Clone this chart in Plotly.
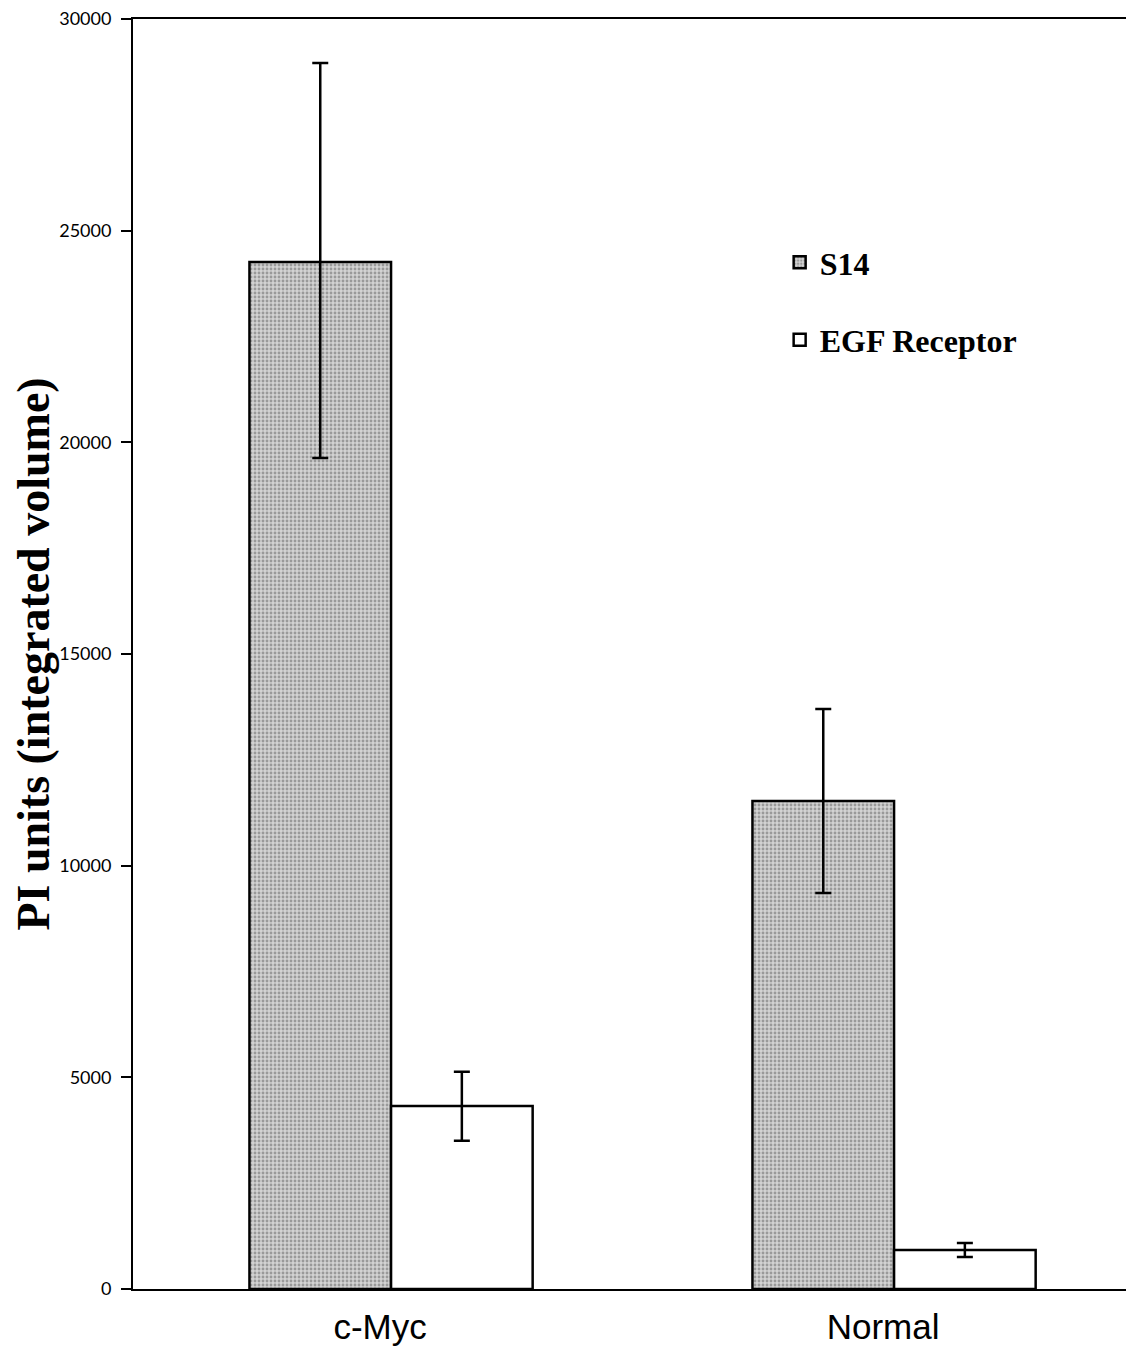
import plotly.graph_objects as go

categories = ["c-Myc", "Normal"]
s14_values = [24260, 11530]
s14_err_plus = [4700, 2170]
s14_err_minus = [4630, 2175]
egf_values = [4320, 920]
egf_err_plus = [810, 165]
egf_err_minus = [820, 165]
y_ticks = [0, 5000, 10000, 15000, 20000, 25000, 30000]
y_tick_labels = ["0", "5000", "10000", "15000", "20000", "25000", "30000"]

fig = go.Figure()
fig.add_trace(go.Bar(
    name="S14", x=categories, y=s14_values,
    marker=dict(color="#c4c4c4", line=dict(color="black", width=2.5),
                pattern=dict(shape=".", fgcolor="#606060", bgcolor="#d2d2d2", size=4, solidity=0.4)),
    error_y=dict(type="data", symmetric=False, array=s14_err_plus, arrayminus=s14_err_minus,
                 color="black", thickness=2.5, width=8),
    legend="legend",
))
fig.add_trace(go.Bar(
    name="EGF Receptor", x=categories, y=egf_values,
    marker=dict(color="white", line=dict(color="black", width=2.5)),
    error_y=dict(type="data", symmetric=False, array=egf_err_plus, arrayminus=egf_err_minus,
                 color="black", thickness=2.5, width=8),
    legend="legend2",
))

legend_font = dict(family="Liberation Serif", size=32, color="black", weight="bold")
fig.update_layout(
    width=1126, height=1338,
    margin=dict(l=125, r=0, t=11, b=57),
    paper_bgcolor="white", plot_bgcolor="white",
    barmode="group", bargap=0.437, bargroupgap=0,
    showlegend=True,
    legend=dict(x=0.646, y=0.830, xanchor="left", yanchor="top", font=legend_font,
                bgcolor="rgba(0,0,0,0)", itemwidth=30),
    legend2=dict(x=0.646, y=0.769, xanchor="left", yanchor="top", font=legend_font,
                 bgcolor="rgba(0,0,0,0)", itemwidth=30),
    xaxis=dict(range=[-0.513, 1.477], showline=True, linecolor="black", linewidth=1.5,
               mirror=True, ticks="", showgrid=False, automargin=False,
               ticklabelstandoff=6, ticklabelshift=-11, ticklabeloverflow="allow",
               tickfont=dict(family="Liberation Sans", size=35, color="black")),
    yaxis=dict(range=[0, 30000], tickvals=y_ticks, ticktext=y_tick_labels,
               showline=True, linecolor="black", linewidth=2,
               ticks="outside", ticklen=10, tickwidth=1.5, tickcolor="black", showgrid=False,
               zeroline=False, automargin=False, ticklabelstandoff=6, ticklabeloverflow="allow",
               tickfont=dict(family="Lato", size=18, color="black"),
               title=dict(text="PI units (integrated volume)", standoff=10,
                          font=dict(family="Liberation Serif", size=46, color="black", weight="bold"))),
)

fig.write_html("out.html")
